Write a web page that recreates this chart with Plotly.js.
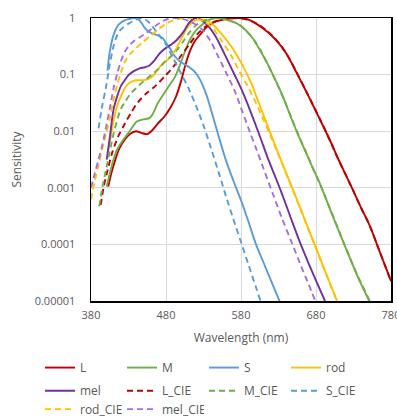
<!DOCTYPE html>
<html>
<head>
<meta charset="utf-8">
<script src="https://cdn.plot.ly/plotly-3.0.1.min.js"></script>
<style>
html,body{margin:0;padding:0;background:#fff;}
#chart{width:397px;height:418px;}
</style>
</head>
<body>
<div id="chart"></div>
<script>
// ---- Data (wavelength in nm, relative sensitivity) ----
const wlL = [403,407,412,418,425,432,440,447,455,462,470,478,486,493,500,506,512,518,525,535,545,555,565,577,590,600,610,620,630,640,650,660,670,680,690,700,710,720,730,740,752,765,780];
const valL = [0.00105,0.00178,0.00302,0.00501,0.00708,0.00891,0.0100,0.00933,0.00891,0.0105,0.0141,0.0182,0.0263,0.0398,0.0759,0.151,0.263,0.380,0.501,0.708,0.851,0.933,0.977,1.0,0.933,0.794,0.646,0.501,0.363,0.240,0.138,0.0759,0.0417,0.0224,0.0120,0.00631,0.00316,0.00166,0.000871,0.000447,0.000209,7.41e-5,2.24e-5];

const wlM = [401,405,410,415,423,432,441,450,458,463,468,474,480,486,492,498,505,512,520,528,535,545,555,565,575,585,595,605,615,625,635,645,655,665,675,686,700,717,735,751];
const valM = [0.00105,0.00178,0.00316,0.00479,0.00708,0.0102,0.0148,0.0162,0.0170,0.0209,0.0295,0.0398,0.0525,0.0692,0.0912,0.141,0.251,0.417,0.603,0.759,0.891,1.0,0.977,0.891,0.794,0.631,0.447,0.275,0.158,0.0851,0.0437,0.0200,0.00933,0.00468,0.00234,0.00112,0.000380,0.000105,2.82e-5,1.0e-5];

const wlS = [402,405,410,415,420,425,430,437,442,447,452,457,463,470,476,480,486,492,498,505,512,519,525,530,535,540,550,560,570,580,590,600,610,620,632];
const valS = [0.117,0.251,0.501,0.708,0.832,0.912,0.955,1.0,0.977,0.832,0.661,0.575,0.525,0.490,0.437,0.363,0.282,0.209,0.174,0.151,0.132,0.110,0.0832,0.0603,0.0398,0.0240,0.00832,0.00302,0.00132,0.000603,0.000251,0.000100,4.79e-5,2.29e-5,9.55e-6];

const wlRod = [402,405,410,415,420,426,432,440,448,456,462,468,475,483,492,501,510,519,525,530,541,554,568,581,594,600,610,620,630,640,650,660,670,680,690,700,708];
const valRod = [0.00407,0.00631,0.0151,0.0282,0.0417,0.0603,0.0724,0.0794,0.0794,0.0832,0.0933,0.117,0.155,0.186,0.263,0.447,0.724,0.912,0.955,0.933,0.794,0.525,0.302,0.155,0.0692,0.0427,0.0191,0.00871,0.00398,0.00186,0.000871,0.000407,0.000186,8.71e-5,3.98e-5,1.86e-5,1.0e-5];

const wlMel = [401,405,410,415,420,425,430,437,445,452,458,464,470,476,482,488,495,503,510,516,520,525,536,545,550,561,572,582,590,597,606,615,624,633,645,659,670,680,692];
const valMel = [0.00316,0.00759,0.0240,0.0417,0.0631,0.0794,0.0977,0.115,0.129,0.135,0.145,0.174,0.224,0.269,0.309,0.347,0.417,0.562,0.794,0.955,1.0,0.955,0.724,0.501,0.380,0.191,0.0955,0.0501,0.0275,0.0158,0.00759,0.00355,0.00178,0.000891,0.000331,0.000105,4.68e-5,2.29e-5,1.0e-5];

const wlLCIE = [393,397,401,408,416,425,434,443,454,466,479,490,501,512,522,532,542,552,562,572,585,595,605,615,625,635,645,655,665,675,685,695,705,715,725,740,752,765,780];
const valLCIE = [0.000501,0.00105,0.00178,0.00407,0.00794,0.0135,0.0219,0.0331,0.0468,0.0631,0.0955,0.138,0.224,0.355,0.525,0.692,0.832,0.933,0.977,1.0,0.955,0.871,0.741,0.589,0.437,0.302,0.186,0.105,0.0575,0.0309,0.0166,0.00871,0.00437,0.00229,0.00120,0.000447,0.000209,7.41e-5,2.24e-5];

const wlMCIE = [391,395,400,405,410,415,420,426,432,440,450,460,470,480,488,495,503,512,520,530,540,548,558,568,578,588,598,608,618,628,638,648,658,668,678,688,700,717,735,752];
const valMCIE = [0.000468,0.00100,0.00209,0.00437,0.00891,0.0158,0.0251,0.0339,0.0447,0.0575,0.0759,0.0977,0.126,0.178,0.219,0.275,0.389,0.575,0.741,0.891,0.977,1.0,0.955,0.871,0.759,0.575,0.398,0.240,0.132,0.0692,0.0347,0.0162,0.00776,0.00389,0.00191,0.000955,0.000389,0.000107,2.88e-5,1.0e-5];

const wlSCIE = [390,395,400,405,410,415,420,430,440,448,455,460,470,480,490,500,510,520,530,540,550,560,570,580,590,600,606];
const valSCIE = [0.0112,0.0282,0.0603,0.151,0.316,0.501,0.631,0.794,0.933,1.0,0.891,0.759,0.513,0.339,0.191,0.105,0.0575,0.0282,0.0126,0.00501,0.00191,0.000708,0.000275,0.000110,4.37e-5,1.74e-5,1.0e-5];

const wlRodCIE = [380,385,390,395,400,405,410,415,420,426,432,437,448,459,470,481,490,500,510,520,530,541,554,568,579,588,600,610,620,630,640,650,660,670,680,690,700,708];
const valRodCIE = [0.000631,0.00132,0.00251,0.00501,0.00891,0.0166,0.0355,0.0661,0.110,0.178,0.229,0.269,0.363,0.479,0.631,0.813,0.912,0.977,1.0,0.977,0.871,0.692,0.398,0.204,0.107,0.0661,0.0316,0.0158,0.00794,0.00380,0.00182,0.000851,0.000398,0.000182,8.51e-5,3.89e-5,1.82e-5,1.0e-5];

const wlMelCIE = [380,385,390,395,400,405,410,415,420,425,430,437,445,452,460,468,475,482,490,500,510,520,528,535,540,550,561,572,582,592,600,610,622,635,648,660,670,679];
const valMelCIE = [0.00100,0.00178,0.00316,0.00562,0.0117,0.0251,0.0562,0.105,0.174,0.251,0.316,0.389,0.457,0.525,0.631,0.759,0.871,0.955,1.0,0.977,0.891,0.759,0.631,0.479,0.380,0.204,0.102,0.0501,0.0219,0.00955,0.00501,0.00219,0.000813,0.000282,0.000105,4.17e-5,2.0e-5,1.0e-5];

const seriesNames = ['L','M','S','rod','mel','L_CIE','M_CIE','S_CIE','rod_CIE','mel_CIE'];
const seriesX = [wlL,wlM,wlS,wlRod,wlMel,wlLCIE,wlMCIE,wlSCIE,wlRodCIE,wlMelCIE];
const seriesY = [valL,valM,valS,valRod,valMel,valLCIE,valMCIE,valSCIE,valRodCIE,valMelCIE];
const seriesColors = ['#C00000','#70AD47','#5B9BD5','#FFC000','#7030A0','#C00000','#70AD47','#5B9BD5','#FFC000','#A66FDD'];
const seriesDash = ['solid','solid','solid','solid','solid','6px,4px','6px,4px','6px,4px','6px,4px','6px,4px'];
const legendRow = ['legend','legend','legend','legend','legend2','legend2','legend2','legend2','legend3','legend3'];

const xTicks = [380,480,580,680,780];
const yTicks = [0.00001,0.0001,0.001,0.01,0.1,1];
const yTickText = ['0.00001','0.0001','0.001','0.01','0.1','1'];

const traces = seriesNames.map((n,i)=>({
  type:'scatter', mode:'lines', name:n,
  x: seriesX[i], y: seriesY[i],
  legend: legendRow[i],
  line:{color:seriesColors[i], width:1.9, dash:seriesDash[i], shape:'spline', smoothing:0.8}
}));

const FONT = 'Open Sans, Noto Sans, sans-serif';
const GREY = '#595959';
function legendAt(y){
  return {
    orientation:'h', x:-0.17, xanchor:'left', y:y, yanchor:'top',
    entrywidth:37, entrywidthmode:'pixels', traceorder:'normal',
    font:{family:FONT,size:12,color:GREY}, bgcolor:'rgba(0,0,0,0)'
  };
}
const layout = {
  width:397, height:418,
  margin:{l:91, r:6, t:18, b:117, pad:0, autoexpand:false},
  paper_bgcolor:'#fff', plot_bgcolor:'#fff',
  font:{family:FONT, size:11, color:GREY},
  showlegend:true,
  xaxis:{
    range:[380,780], tickvals:xTicks, ticktext:xTicks.map(String),
    showgrid:true, gridcolor:'#d9d9d9', gridwidth:1,
    showline:true, linecolor:'#000', linewidth:1.5, mirror:true,
    zeroline:false, ticks:'', ticklabelstandoff:3, ticklabeloverflow:'allow',
    tickfont:{family:FONT,size:11,color:GREY},
    title:{text:'Wavelength (nm)', font:{family:FONT,size:12,color:GREY}, standoff:13}
  },
  yaxis:{
    type:'log', range:[-5,0], tickvals:yTicks, ticktext:yTickText,
    showgrid:true, gridcolor:'#d9d9d9', gridwidth:1,
    showline:true, linecolor:'#000', linewidth:1.5, mirror:true,
    zeroline:false, ticks:'', ticklabelstandoff:12, ticklabeloverflow:'allow',
    tickfont:{family:FONT,size:11,color:GREY},
    title:{text:'Sensitivity', font:{family:FONT,size:12,color:GREY}, standoff:10}
  },
  legend: legendAt(-0.184),
  legend2: legendAt(-0.266),
  legend3: legendAt(-0.331)
};

Plotly.newPlot('chart', traces, layout, {staticPlot:true, displayModeBar:false});
</script>
</body>
</html>
